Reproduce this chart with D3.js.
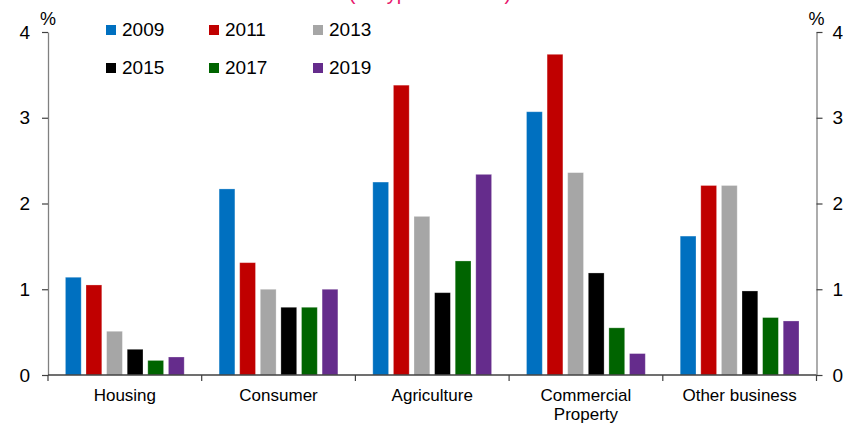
<!DOCTYPE html>
<html>
<head>
<meta charset="utf-8">
<script src="https://cdn.jsdelivr.net/npm/d3@7/dist/d3.min.js"></script>
<style>
  html, body { margin: 0; padding: 0; background: #fff; }
  svg { display: block; font-family: "Liberation Sans", Arial, sans-serif; }
</style>
</head>
<body>
<svg id="chart" width="843" height="425"></svg>
<script>
const categories = ["Housing", "Consumer", "Agriculture", "Commercial Property", "Other business"];
const seriesNames = ["2009", "2011", "2013", "2015", "2017", "2019"];
const seriesColors = ["#0070C0", "#C00000", "#A6A6A6", "#000000", "#006400", "#652C8C"];
const v2009 = [1.14, 2.17, 2.25, 3.07, 1.62];
const v2011 = [1.05, 1.31, 3.38, 3.74, 2.21];
const v2013 = [0.51, 1.00, 1.85, 2.36, 2.21];
const v2015 = [0.30, 0.79, 0.96, 1.19, 0.98];
const v2017 = [0.17, 0.79, 1.33, 0.55, 0.67];
const v2019 = [0.21, 1.00, 2.34, 0.25, 0.63];
const seriesValues = [v2009, v2011, v2013, v2015, v2017, v2019];
const yTicks = [0, 1, 2, 3, 4];

(function () {
const svg = d3.select("#chart");
const mLeft = 48, mRight = 816.5, mTop = 32, mBottom = 375;

const x0 = d3.scaleBand().domain(categories).range([mLeft, mRight]).paddingInner(0).paddingOuter(0);
const x1 = d3.scaleBand().domain(seriesNames).range([17.4, 136.2]).paddingInner(0.233).paddingOuter(0);
const y = d3.scaleLinear().domain([0, 4]).range([mBottom, mTop]);

// title fragment (cut off at top)
svg.append("text").attr("x", 430).attr("y", 0).attr("text-anchor", "middle")
  .attr("font-size", 20).attr("fill", "#E8176C").text("(all types of loans)");

// bars
const groups = svg.append("g").selectAll("g").data(categories).join("g")
  .attr("transform", d => `translate(${x0(d)},0)`);
groups.selectAll("rect")
  .data((c, ci) => seriesNames.map((s, si) => ({ s, si, v: seriesValues[si][ci] })))
  .join("rect")
  .attr("x", d => x1(d.s))
  .attr("width", x1.bandwidth())
  .attr("y", d => y(d.v))
  .attr("height", d => y(0) - y(d.v))
  .attr("fill", d => seriesColors[d.si])
  .attr("stroke", "#ffffff").attr("stroke-opacity", 0.35).attr("stroke-width", 0.8);

// axes
const axisColor = "#808080";
const leftAxis = svg.append("g").attr("transform", `translate(${mLeft},0)`)
  .call(d3.axisLeft(y).tickValues(yTicks).tickFormat(d3.format("d")).tickSize(6).tickPadding(12).tickSizeOuter(0));
const rightAxis = svg.append("g").attr("transform", `translate(${mRight},0)`)
  .call(d3.axisRight(y).tickValues(yTicks).tickFormat(d3.format("d")).tickSize(6).tickPadding(10).tickSizeOuter(0));
[leftAxis, rightAxis].forEach(a => {
  a.select(".domain").attr("stroke", axisColor).attr("stroke-width", 1.3);
  a.selectAll(".tick line").attr("stroke", "#404040").attr("stroke-width", 1.2);
  a.selectAll(".tick text").attr("font-size", 19).attr("fill", "#000")
    .attr("font-family", "Liberation Sans, Arial, sans-serif");
});

// bottom axis with ticks at category boundaries
const bottomAxis = svg.append("g").attr("transform", `translate(0,${mBottom})`);
bottomAxis.append("line").attr("x1", mLeft).attr("x2", mRight).attr("y1", 0).attr("y2", 0)
  .attr("stroke", "#404040").attr("stroke-width", 1.3);
const boundaries = categories.map(c => x0(c)).concat([x0(categories[categories.length - 1]) + x0.bandwidth()]);
bottomAxis.selectAll("line.b").data(boundaries).join("line").attr("class", "b")
  .attr("x1", d => d).attr("x2", d => d).attr("y1", 0).attr("y2", 6)
  .attr("stroke", "#404040").attr("stroke-width", 1.2);

// category labels
const catLabels = svg.append("g").selectAll("text").data(categories).join("text")
  .attr("x", d => x0(d) + x0.bandwidth() / 2)
  .attr("y", 401)
  .attr("text-anchor", "middle").attr("font-size", 17).attr("fill", "#000");
catLabels.each(function (d) {
  const words = d === "Commercial Property" ? ["Commercial", "Property"] : [d];
  const t = d3.select(this);
  words.forEach((w, i) => {
    t.append("tspan").attr("x", x0(d) + x0.bandwidth() / 2).attr("dy", i === 0 ? 0 : 19).text(w);
  });
});

// % unit labels
svg.append("text").attr("x", mLeft).attr("y", 25).attr("text-anchor", "middle")
  .attr("font-size", 18).attr("fill", "#000").text("%");
svg.append("text").attr("x", mRight).attr("y", 25).attr("text-anchor", "middle")
  .attr("font-size", 18).attr("fill", "#000").text("%");

// legend
const legendX = [106, 209, 313];
const legendY = [25, 63];
const legend = svg.append("g").selectAll("g").data(seriesNames).join("g")
  .attr("transform", (d, i) => `translate(${legendX[i % 3]},${legendY[Math.floor(i / 3)]})`);
legend.append("rect").attr("width", 10).attr("height", 10).attr("fill", (d, i) => seriesColors[i]);
legend.append("text").attr("x", 16).attr("y", 11).attr("font-size", 19).attr("fill", "#000").text(d => d);
})();
</script>
</body>
</html>
